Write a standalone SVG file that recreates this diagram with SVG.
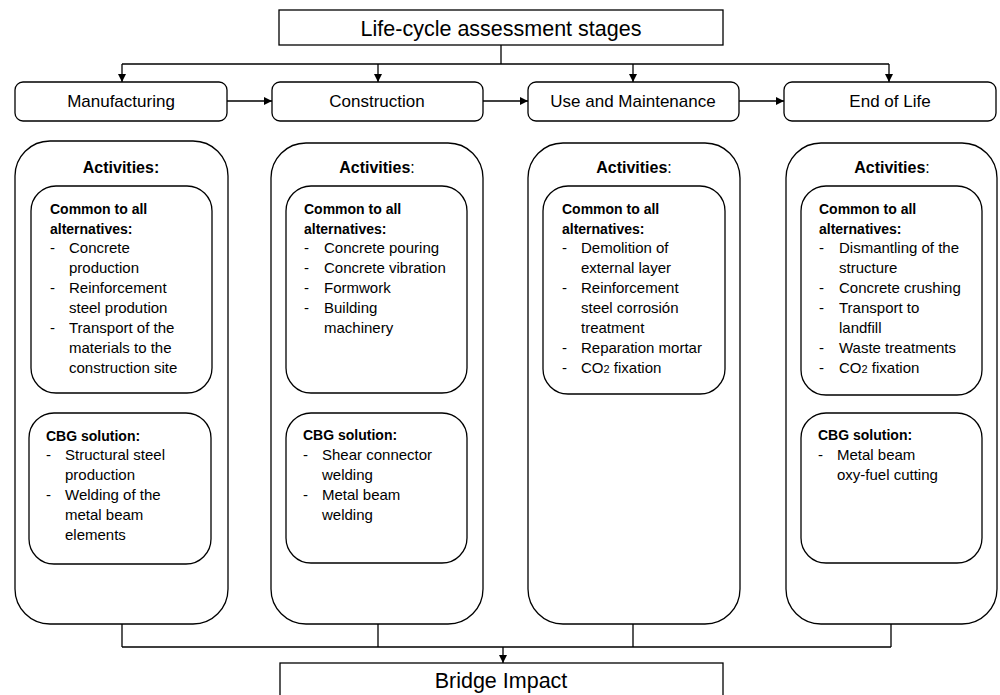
<svg xmlns="http://www.w3.org/2000/svg" width="1000" height="695" viewBox="0 0 1000 695">
<style>
text{font-family:"Liberation Sans",Arial,sans-serif;fill:#000}
.box{fill:#fff;stroke:#000;stroke-width:1.3}
.con{fill:none;stroke:#000;stroke-width:1.3}
.title{font-size:21.5px;text-anchor:middle}
.stage{font-size:17px;text-anchor:middle}
.act{font-size:16px;font-weight:bold;text-anchor:middle}
.hd{font-size:14px;font-weight:bold}
.it{font-size:15px}
.n{font-weight:normal}
</style>
<defs>
<marker id="arr" markerWidth="8" markerHeight="8" refX="8" refY="4" orient="auto" markerUnits="userSpaceOnUse">
<path d="M0,0 L8,4 L0,8 z" fill="#000"/>
</marker>
</defs>

<g id="connectors">
<path class="con" d="M501,45 V64" stroke-width="2"/>
<path class="con" d="M122,64 H889"/>
<path class="con" d="M122,64 V82" marker-end="url(#arr)"/>
<path class="con" d="M378,64 V82" marker-end="url(#arr)"/>
<path class="con" d="M633,64 V82" marker-end="url(#arr)"/>
<path class="con" d="M889,64 V82" marker-end="url(#arr)"/>
<path class="con" d="M227,101 H272" marker-end="url(#arr)"/>
<path class="con" d="M483,101 H528" marker-end="url(#arr)"/>
<path class="con" d="M739,101 H784" marker-end="url(#arr)"/>
<path class="con" d="M122,624 V647 M378,624 V647 M633,624 V647 M891,624 V647 M122,647 H891"/>
<path class="con" d="M503,647 V663" marker-end="url(#arr)"/>
</g>

<g id="lca-stages">
<rect class="box" x="279" y="10" width="444" height="35"/>
<text class="title" x="501" y="36">Life-cycle assessment stages</text>
</g>

<g id="stage-manufacturing">
<rect class="box" x="15" y="82" width="212" height="39" rx="8"/>
<text class="stage" x="121" y="107">Manufacturing</text>
</g>
<g id="stage-construction">
<rect class="box" x="272" y="82" width="211" height="39" rx="8"/>
<text class="stage" x="377" y="107">Construction</text>
</g>
<g id="stage-use">
<rect class="box" x="528" y="82" width="211" height="39" rx="8"/>
<text class="stage" x="633" y="107">Use and Maintenance</text>
</g>
<g id="stage-eol">
<rect class="box" x="784" y="82" width="212" height="39" rx="8"/>
<text class="stage" x="890" y="107">End of Life</text>
</g>

<g id="act-manufacturing">
<rect class="box" x="15" y="141" width="213" height="483" rx="35"/>
<text class="act" x="121" y="173">Activities:</text>
<rect class="box" x="31" y="186" width="181" height="207" rx="25"/>
<text class="hd" x="50" y="214">Common to all</text>
<text class="hd" x="50" y="234">alternatives:</text>
<g class="it">
<text class="it" x="50" y="253">-</text><text class="it" x="69" y="253">Concrete</text>
<text class="it" x="69" y="273">production</text>
<text class="it" x="50" y="293">-</text><text class="it" x="69" y="293">Reinforcement</text>
<text class="it" x="69" y="313">steel prodution</text>
<text class="it" x="50" y="333">-</text><text class="it" x="69" y="333">Transport of the</text>
<text class="it" x="69" y="353">materials to the</text>
<text class="it" x="69" y="373">construction site</text>
</g>
<rect class="box" x="29" y="413" width="182" height="151" rx="25"/>
<text class="hd" x="46" y="441">CBG solution:</text>
<text class="it" x="46" y="460">-</text><text class="it" x="65" y="460">Structural steel</text>
<text class="it" x="65" y="480">production</text>
<text class="it" x="46" y="500">-</text><text class="it" x="65" y="500">Welding of the</text>
<text class="it" x="65" y="520">metal beam</text>
<text class="it" x="65" y="540">elements</text>
</g>

<g id="act-construction">
<rect class="box" x="271" y="143" width="212" height="481" rx="35"/>
<text class="act" x="377" y="173">Activities<tspan class="n">:</tspan></text>
<rect class="box" x="286" y="186" width="181" height="207" rx="25"/>
<text class="hd" x="304" y="214">Common to all</text>
<text class="hd" x="304" y="234">alternatives:</text>
<text class="it" x="304" y="253">-</text><text class="it" x="324" y="253">Concrete pouring</text>
<text class="it" x="304" y="273">-</text><text class="it" x="324" y="273">Concrete vibration</text>
<text class="it" x="304" y="293">-</text><text class="it" x="324" y="293">Formwork</text>
<text class="it" x="304" y="313">-</text><text class="it" x="324" y="313">Building</text>
<text class="it" x="324" y="333">machinery</text>
<rect class="box" x="286" y="413" width="181" height="150" rx="25"/>
<text class="hd" x="303" y="440">CBG solution:</text>
<text class="it" x="303" y="460">-</text><text class="it" x="322" y="460">Shear connector</text>
<text class="it" x="322" y="480">welding</text>
<text class="it" x="303" y="500">-</text><text class="it" x="322" y="500">Metal beam</text>
<text class="it" x="322" y="520">welding</text>
</g>

<g id="act-use">
<rect class="box" x="528" y="143" width="212" height="481" rx="35"/>
<text class="act" x="634" y="173">Activities<tspan class="n">:</tspan></text>
<rect class="box" x="543" y="186" width="182" height="208" rx="25"/>
<text class="hd" x="562" y="214">Common to all</text>
<text class="hd" x="562" y="234">alternatives:</text>
<text class="it" x="562" y="253">-</text><text class="it" x="581" y="253">Demolition of</text>
<text class="it" x="581" y="273">external layer</text>
<text class="it" x="562" y="293">-</text><text class="it" x="581" y="293">Reinforcement</text>
<text class="it" x="581" y="313">steel corrosión</text>
<text class="it" x="581" y="333">treatment</text>
<text class="it" x="562" y="353">-</text><text class="it" x="581" y="353">Reparation mortar</text>
<text class="it" x="562" y="373">-</text><text class="it" x="581" y="373">CO<tspan font-size="11">2</tspan> fixation</text>
</g>

<g id="act-eol">
<rect class="box" x="786" y="143" width="211" height="481" rx="35"/>
<text class="act" x="892" y="173">Activities<tspan class="n">:</tspan></text>
<rect class="box" x="801" y="186" width="181" height="209" rx="25"/>
<text class="hd" x="819" y="214">Common to all</text>
<text class="hd" x="819" y="234">alternatives:</text>
<text class="it" x="819" y="253">-</text><text class="it" x="839" y="253">Dismantling of the</text>
<text class="it" x="839" y="273">structure</text>
<text class="it" x="819" y="293">-</text><text class="it" x="839" y="293">Concrete crushing</text>
<text class="it" x="819" y="313">-</text><text class="it" x="839" y="313">Transport to</text>
<text class="it" x="839" y="333">landfill</text>
<text class="it" x="819" y="353">-</text><text class="it" x="839" y="353">Waste treatments</text>
<text class="it" x="819" y="373">-</text><text class="it" x="839" y="373">CO<tspan font-size="11">2</tspan> fixation</text>
<rect class="box" x="801" y="413" width="181" height="150" rx="25"/>
<text class="hd" x="818" y="440">CBG solution:</text>
<text class="it" x="818" y="460">-</text><text class="it" x="837" y="460">Metal beam</text>
<text class="it" x="837" y="480">oxy-fuel cutting</text>
</g>

<g id="bridge-impact">
<rect class="box" x="280" y="663" width="443" height="40"/>
<text class="title" x="501" y="688">Bridge Impact</text>
</g>
</svg>
